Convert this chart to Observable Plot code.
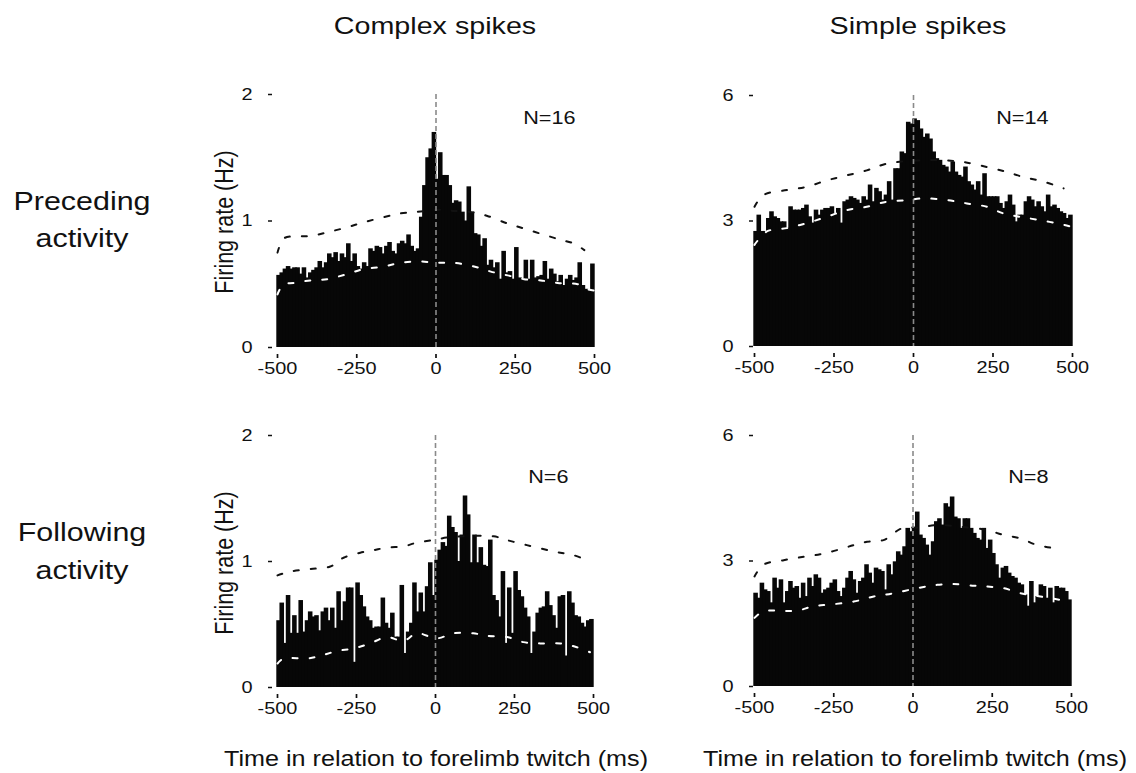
<!DOCTYPE html>
<html>
<head>
<meta charset="utf-8">
<script src="https://cdn.jsdelivr.net/npm/d3@7"></script>
<script src="https://cdn.jsdelivr.net/npm/@observablehq/plot@0.6"></script>
<style>
  html, body { margin: 0; padding: 0; background: #fff; }
  #page { position: relative; width: 1136px; height: 773px; overflow: hidden; background: #fff;
          font-family: "Liberation Sans", Arial, Helvetica, sans-serif; color: #111; }
  .lbl { position: absolute; white-space: nowrap; line-height: 1; transform: translate(-50%, -50%) scaleX(1.17); }
  .vlbl { position: absolute; white-space: nowrap; line-height: 1; transform: translate(-50%, -50%) rotate(-90deg) scaleY(1.17); }
  .panel { position: absolute; }
</style>
</head>
<body>
<div id="page"></div>
<script>
// ---------------- data ----------------
const binStart = d3.range(-500, 500, 10);   // 10-ms bins, -500 .. 500 ms
const binWidth = 10;
const eventTime = [0];
const xTicks = [-500, -250, 0, 250, 500];

const columnTitles = ["Complex spikes", "Simple spikes"];
const rowTitles = [["Preceding", "activity"], ["Following", "activity"]];
const yLabel = "Firing rate (Hz)";
const xLabel = "Time in relation to forelimb twitch (ms)";

// Complex spikes, preceding activity (N=16)
const csPreRate = [
  0.57,0.59,0.62,0.64,0.62,0.63,0.63,0.58,0.63,0.55,
  0.59,0.61,0.63,0.68,0.63,0.67,0.74,0.71,0.75,0.68,
  0.74,0.71,0.82,0.68,0.74,0.64,0.62,0.67,0.64,0.78,
  0.76,0.80,0.79,0.74,0.80,0.83,0.76,0.74,0.82,0.84,
  0.82,0.89,0.80,0.76,0.78,1.03,1.28,1.50,1.57,1.70,
  1.33,1.54,1.36,1.36,1.28,1.14,1.16,1.15,1.07,1.00,
  1.27,1.07,0.90,0.89,0.80,0.86,0.65,0.69,0.63,0.67,
  0.54,0.76,0.59,0.60,0.54,0.79,0.55,0.54,0.69,0.54,
  0.69,0.55,0.56,0.57,0.68,0.54,0.62,0.58,0.52,0.57,
  0.49,0.54,0.57,0.53,0.55,0.67,0.49,0.46,0.45,0.66];
const csPreUpX = [-500,-481,-449,-397,-344,-281,-228,-165,-112,-70,-27,15,57,110,162,226,278,342,395,437,468];
const csPreUpY = [0.75,0.86,0.88,0.88,0.91,0.95,0.99,1.03,1.06,1.07,1.08,1.09,1.08,1.07,1.04,0.98,0.94,0.89,0.85,0.82,0.77];
const csPreLoX = [-500,-481,-449,-397,-344,-281,-228,-165,-112,-49,4,57,120,173,226,278,331,384,447,479,500];
const csPreLoY = [0.42,0.50,0.51,0.53,0.54,0.58,0.62,0.64,0.67,0.68,0.67,0.67,0.64,0.60,0.57,0.54,0.53,0.51,0.50,0.46,0.45];

// Simple spikes, preceding activity (N=14)
const ssPreRate = [
  2.75,3.14,2.75,2.75,3.06,3.22,3.10,3.06,2.98,2.98,
  2.83,3.34,3.26,3.26,3.26,3.30,3.38,3.10,2.95,3.26,
  3.14,3.26,3.30,3.30,3.34,3.18,3.30,2.95,3.46,3.50,
  3.58,3.54,3.50,3.42,3.58,3.50,3.86,3.46,3.78,3.70,
  3.50,3.62,3.94,3.50,4.25,4.25,4.65,4.61,5.36,5.32,
  5.44,5.40,5.20,5.00,5.08,4.96,4.65,4.49,4.45,4.33,
  4.29,4.17,4.41,4.17,4.09,4.05,4.29,3.94,3.86,3.74,
  3.94,3.62,4.13,3.58,3.58,3.58,3.58,3.42,3.30,3.46,
  3.62,3.38,2.98,3.14,3.14,3.46,3.58,3.50,3.34,3.46,
  3.34,3.22,3.62,3.34,3.38,3.30,3.22,3.18,3.06,3.14];
const ssPreUpX = [-500,-472,-398,-335,-273,-210,-147,-84,21,94,157,231,294,346,409,472];
const ssPreUpY = [3.34,3.62,3.74,3.82,3.97,4.09,4.21,4.37,4.45,4.45,4.41,4.29,4.17,4.05,3.94,3.78];
const ssPreLoX = [-500,-461,-398,-335,-273,-210,-147,-84,-21,31,105,168,231,283,335,398,472,500];
const ssPreLoY = [2.43,2.75,2.83,2.95,3.10,3.26,3.34,3.46,3.50,3.54,3.50,3.42,3.34,3.18,3.10,3.02,2.91,2.85];

// Complex spikes, following activity (N=6)
const csFolRate = [
  0.53,0.67,0.35,0.73,0.43,0.57,0.43,0.69,0.44,0.53,
  0.60,0.56,0.57,0.45,0.60,0.63,0.53,0.63,0.47,0.76,
  0.53,0.68,0.79,0.79,0.20,0.83,0.73,0.64,0.56,0.53,
  0.47,0.48,0.48,0.71,0.51,0.47,0.59,0.40,0.40,0.81,
  0.27,0.44,0.51,0.83,0.60,0.75,0.60,0.80,0.99,0.73,
  1.01,1.09,1.15,1.12,1.36,1.27,1.23,1.00,1.21,1.52,
  1.37,0.99,1.21,0.99,1.11,0.97,0.96,1.17,0.73,0.69,
  0.56,0.92,0.35,0.79,0.43,0.92,0.77,0.72,0.63,0.56,
  0.27,0.44,0.59,0.63,0.64,0.76,0.65,0.57,0.47,0.72,
  0.73,0.25,0.76,0.67,0.57,0.56,0.51,0.48,0.53,0.54];
const csFolUpX = [-500,-460,-397,-333,-291,-238,-196,-154,-101,-59,-6,36,89,184,226,289,373,437,489];
const csFolUpY = [0.89,0.92,0.94,0.96,1.03,1.07,1.09,1.11,1.12,1.15,1.17,1.19,1.20,1.20,1.17,1.13,1.08,1.05,1.00];
const csFolLoX = [-500,-481,-407,-365,-312,-259,-207,-154,-101,-59,4,57,120,162,226,278,331,395,447,489];
const csFolLoY = [0.19,0.23,0.23,0.25,0.29,0.31,0.35,0.40,0.37,0.43,0.39,0.43,0.43,0.41,0.40,0.36,0.35,0.35,0.32,0.28];

// Simple spikes, following activity (N=8)
const ssFolRate = [
  2.23,2.11,2.47,2.31,2.27,2.00,2.59,2.35,2.55,2.00,
  2.27,2.51,2.35,2.39,2.11,2.47,2.15,2.59,2.39,2.67,
  2.59,2.23,2.31,2.35,2.47,2.55,2.27,2.15,2.35,2.59,
  2.75,2.55,2.23,2.51,2.59,2.91,2.71,2.47,2.83,2.79,
  2.75,2.31,2.91,2.67,2.98,3.22,3.14,3.34,3.78,3.70,
  3.78,4.17,3.62,3.54,3.38,3.14,3.46,3.94,4.01,3.86,
  4.37,4.29,4.53,4.05,4.01,3.78,4.01,4.01,3.78,3.66,
  3.54,3.50,3.78,3.30,3.50,3.18,2.91,2.59,2.83,2.87,
  2.71,2.63,2.59,2.47,2.43,2.19,1.92,2.51,2.00,2.15,
  2.43,2.39,2.11,2.35,2.00,2.39,2.35,2.35,2.27,2.07];
const ssFolUpX = [-500,-472,-408,-345,-293,-240,-187,-145,-93,-35,23,76,149,234,286,339,392,455];
const ssFolUpY = [2.63,2.91,3.02,3.10,3.16,3.26,3.38,3.46,3.50,3.78,3.80,3.86,3.82,3.74,3.62,3.54,3.38,3.30];
const ssFolLoX = [-500,-472,-419,-366,-314,-261,-187,-124,-61,13,76,128,192,234,286,339,402,497];
const ssFolLoY = [1.64,1.80,1.81,1.81,1.92,1.96,2.03,2.15,2.23,2.35,2.43,2.45,2.41,2.39,2.35,2.23,2.15,2.03];

const csTicks = [0, 1, 2];
const ssTicks = [0, 3, 6];

// ---------------- layout ----------------
const FONT = '"Liberation Sans", Arial, Helvetica, sans-serif';
const STRETCH = 1.17;
const page = document.getElementById("page");

function addLabel(text, cx, cy, size, cls = "lbl") {
  const d = document.createElement("div");
  d.className = cls;
  d.textContent = text;
  d.style.left = cx + "px";
  d.style.top = cy + "px";
  d.style.fontSize = size + "px";
  page.appendChild(d);
}

function stretchTexts(svg, k) {
  svg.querySelectorAll("text").forEach(t => {
    const xa = t.getAttribute("x"), ya = t.getAttribute("y");
    const x = xa != null && !/em/.test(xa) ? +xa : 0;
    const y = ya != null && !/em/.test(ya) ? +ya : 0;
    if (xa != null && !/em/.test(xa)) t.removeAttribute("x");
    if (ya != null && !/em/.test(ya)) t.removeAttribute("y");
    const tr = t.getAttribute("transform") || "";
    t.setAttribute("transform", `${tr} translate(${x},${y}) scale(${k},1)`);
  });
}

function panel(cfg) {
  const mL = 45, mR = 20, mT = 10, mB = 40;
  const w = cfg.right - cfg.left, h = cfg.bottom - cfg.top;
  const bins = binStart.map((s, i) => ({x1: s, x2: s + binWidth, y: cfg.rate[i]}));
  const up = cfg.upX.map((x, i) => ({x, y: cfg.upY[i]}));
  const lo = cfg.loX.map((x, i) => ({x, y: cfg.loY[i]}));
  const chart = Plot.plot({
    width: mL + w + mR,
    height: mT + h + mB,
    marginLeft: mL, marginRight: mR, marginTop: mT, marginBottom: mB,
    style: {fontFamily: FONT, fontSize: "17px", background: "transparent", overflow: "visible", color: "#111"},
    x: {domain: [-500, 500]},
    y: {domain: [0, cfg.yTicks[2]]},
    marks: [
      Plot.rectY(bins, {x1: "x1", x2: "x2", y: "y", fill: "#070707", insetLeft: -0.7, insetRight: -0.7}),
      Plot.line(up, {x: "x", y: "y", stroke: "#111", strokeWidth: 2, strokeDasharray: "5,12", curve: "catmull-rom"}),
      Plot.line(lo, {x: "x", y: "y", stroke: "#fff", strokeWidth: 2, strokeDasharray: "5,12", curve: "catmull-rom"}),
      Plot.ruleX(eventTime, {stroke: "#8a8a8a", strokeWidth: 1.6, strokeDasharray: "5,3"}),
      Plot.axisY({ticks: cfg.yTicks, tickSize: 4, tickPadding: 16, dx: cfg.dxY, label: null,
                  tickFormat: d => String(d), fontSize: 17, strokeWidth: 1.5}),
      Plot.axisX({ticks: xTicks, tickSize: 4, tickPadding: 3, dy: 7, label: null,
                  tickFormat: d => String(d), fontSize: 17, strokeWidth: 1.7}),
      Plot.text([cfg.n], {text: d => d, frameAnchor: "top-right", dx: cfg.nDx, dy: cfg.nDy,
                          fontSize: 18.5, fill: "#111", lineAnchor: "top"})
    ]
  });
  stretchTexts(chart, STRETCH);
  chart.classList.add("panel");
  chart.style.left = (cfg.left - mL) + "px";
  chart.style.top = (cfg.top - mT) + "px";
  page.appendChild(chart);
}

panel({rate: csPreRate, upX: csPreUpX, upY: csPreUpY, loX: csPreLoX, loY: csPreLoY,
       yTicks: csTicks, n: "N=16", left: 277, right: 594, top: 94, bottom: 347, dxY: -5, nDx: -19, nDy: 16});
panel({rate: ssPreRate, upX: ssPreUpX, upY: ssPreUpY, loX: ssPreLoX, loY: ssPreLoY,
       yTicks: ssTicks, n: "N=14", left: 754, right: 1072, top: 95, bottom: 346, dxY: -1, nDx: -24, nDy: 15});
panel({rate: csFolRate, upX: csFolUpX, upY: csFolUpY, loX: csFolLoX, loY: csFolLoY,
       yTicks: csTicks, n: "N=6", left: 277, right: 593, top: 435, bottom: 687, dxY: -5, nDx: -25, nDy: 34});
panel({rate: ssFolRate, upX: ssFolUpX, upY: ssFolUpY, loX: ssFolLoX, loY: ssFolLoY,
       yTicks: ssTicks, n: "N=8", left: 754, right: 1071, top: 435, bottom: 686, dxY: -1, nDx: -23, nDy: 34});

// titles and labels
addLabel(columnTitles[0], 435, 26, 24.5);
addLabel(columnTitles[1], 918, 26, 24.5);
addLabel(rowTitles[0][0], 82, 201, 26);
addLabel(rowTitles[0][1], 82, 238, 26);
addLabel(rowTitles[1][0], 82, 532, 26);
addLabel(rowTitles[1][1], 82, 570, 26);
addLabel(yLabel, 226, 222, 21.5, "vlbl");
addLabel(yLabel, 226, 563, 21.5, "vlbl");
addLabel(xLabel, 436, 760, 21.5);
addLabel(xLabel, 915, 760, 21.5);
</script>
</body>
</html>
